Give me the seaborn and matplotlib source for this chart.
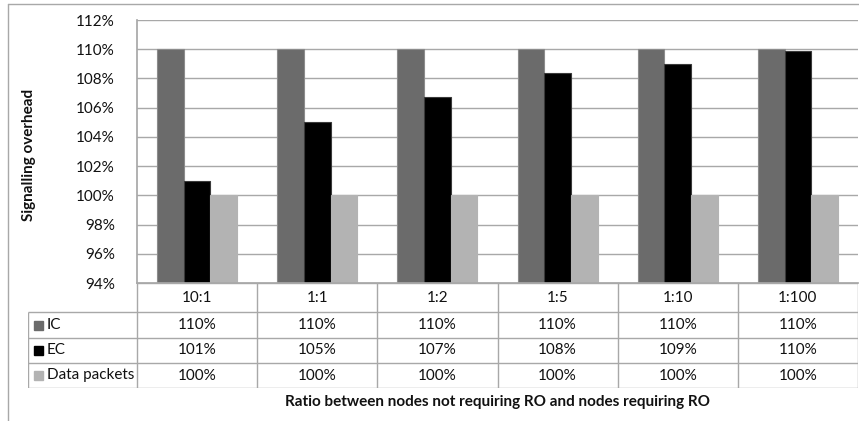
import matplotlib
matplotlib.use("Agg")
import matplotlib.pyplot as plt
import pandas as pd
import seaborn as sns
from matplotlib.lines import Line2D
from matplotlib.patches import Rectangle

ratios = ["10:1", "1:1", "1:2", "1:5", "1:10", "1:100"]
series_names = ["IC", "EC", "Data packets"]
ic_values = [110.0, 110.0, 110.0, 110.0, 110.0, 110.0]
ec_values = [101.0, 105.0, 106.7, 108.4, 109.0, 109.9]
data_values = [100.0, 100.0, 100.0, 100.0, 100.0, 100.0]
table_ic = ["110%", "110%", "110%", "110%", "110%", "110%"]
table_ec = ["101%", "105%", "107%", "108%", "109%", "110%"]
table_data = ["100%", "100%", "100%", "100%", "100%", "100%"]
y_ticks = [94, 96, 98, 100, 102, 104, 106, 108, 110, 112]

colors = ["#6b6b6b", "#000000", "#b3b3b3"]
edges = ["#8c8c8c", "#3a3a3a", "#b3b3b3"]
grid_col = "#a8a8a8"
txt_col = "#111111"
fs = 11

df = pd.DataFrame({
    "ratio": ratios * 3,
    "series": [s for s in series_names for _ in ratios],
    "value": ic_values + ec_values + data_values,
})

sns.set_theme(style="white")
plt.rcParams["font.family"] = ["Lato", "DejaVu Sans"]

W, H = 859, 421
fig = plt.figure(figsize=(W / 100, H / 100), dpi=100)


def fx(px):
    return px / W


def fy(py):
    return 1 - py / H


# main bar area
ax = fig.add_axes([fx(137), fy(283), fx(858 - 137), (283 - 20) / H])
sns.barplot(data=df, x="ratio", y="value", hue="series", order=ratios,
            hue_order=series_names, palette=colors, width=2 / 3, gap=0,
            legend=False, ax=ax, linewidth=0.8)
for cont, ec in zip(ax.containers, edges):
    for p in cont:
        p.set_edgecolor(ec)

ax.set_ylim(94, 112)
ax.set_xlim(-0.5, len(ratios) - 0.5)
ax.set_yticks(y_ticks)
ax.set_yticklabels([f"{t}%" for t in y_ticks], fontsize=fs, color=txt_col)
ax.tick_params(axis="y", length=0, pad=16)
ax.set_xticks([])
ax.set_xlabel("")
ax.set_ylabel("Signalling overhead", fontsize=11, fontweight="bold", color=txt_col)
ax.yaxis.set_label_coords((36 - 137) / 721, (283 - 155) / 263)
ax.yaxis.grid(True, color=grid_col, linewidth=1.0)
ax.set_axisbelow(True)
for s in ["left", "bottom"]:
    ax.spines[s].set_color(grid_col)
ax.spines["top"].set_visible(False)
ax.spines["right"].set_visible(False)

# data table below
n = len(ratios)
col_px = (858 - 137) / n
label_w = (137 - 28) / col_px
tab = fig.add_axes([fx(28), fy(388), fx(858 - 28), (388 - 283) / H])
tab.set_xlim(-0.5 - label_w, n - 0.5)
row_edges = [283, 312, 338, 363, 388]
tab.set_ylim(row_edges[-1], row_edges[0])
tab.axis("off")

line_kw = dict(color=grid_col, linewidth=1.0, solid_capstyle="butt")
tab.plot([-0.5, n - 0.5], [row_edges[0]] * 2, **line_kw)
for yv in row_edges[1:]:
    tab.plot([-0.5 - label_w, n - 0.5], [yv] * 2, **line_kw)
for i in range(n + 1):
    tab.plot([i - 0.5] * 2, [row_edges[0], row_edges[-1]], **line_kw)
tab.plot([-0.5 - label_w] * 2, [row_edges[1], row_edges[-1]], **line_kw)

for i, r in enumerate(ratios):
    tab.text(i, (row_edges[0] + row_edges[1]) / 2 + 1, r, ha="center",
             va="center", fontsize=fs, color=txt_col)
rows = [table_ic, table_ec, table_data]
for k, (name, vals, col) in enumerate(zip(series_names, rows, colors)):
    yc = (row_edges[k + 1] + row_edges[k + 2]) / 2
    for i, v in enumerate(vals):
        tab.text(i, yc, v, ha="center", va="center", fontsize=fs,
                 color=txt_col)
    x0 = -0.5 - label_w
    tab.add_patch(Rectangle((x0 + 6 / col_px, yc - 4.5), 9 / col_px, 9,
                            color=col, clip_on=False))
    tab.text(x0 + 19 / col_px, yc, name, ha="left", va="center",
             fontsize=fs, color=txt_col)

fig.text(fx(497), fy(402), "Ratio between nodes not requiring RO and nodes requiring RO",
         ha="center", va="center", fontsize=11, fontweight="bold", color=txt_col)

# outer chart frame
fig.add_artist(Line2D([fx(8), 1], [fy(4), fy(4)], color=grid_col, linewidth=1.0))
fig.add_artist(Line2D([fx(8), fx(8)], [fy(4), 0], color=grid_col, linewidth=1.0))

fig.savefig("out.png", dpi=100)
